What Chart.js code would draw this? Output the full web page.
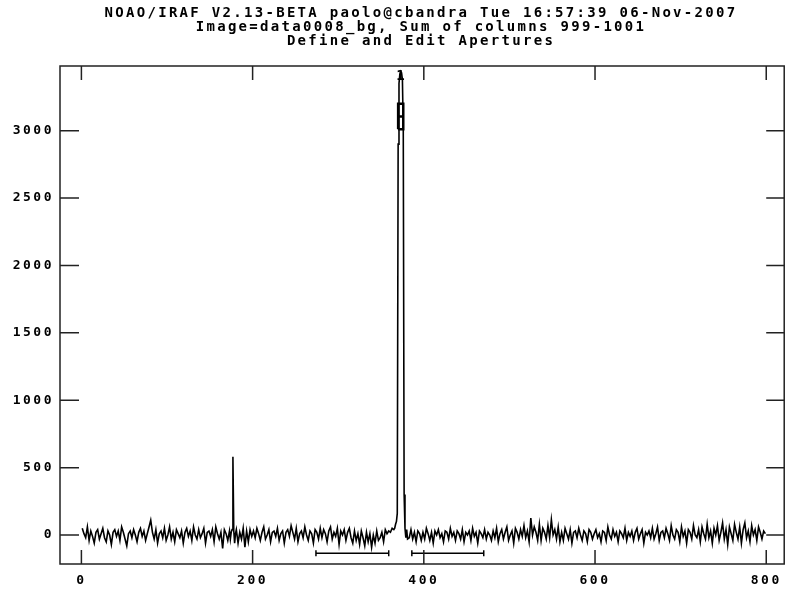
<!DOCTYPE html>
<html>
<head>
<meta charset="utf-8">
<script src="https://cdn.jsdelivr.net/npm/chart.js@4.4.0/dist/chart.umd.min.js"></script>
<style>
  html, body { margin: 0; padding: 0; background: #fff; }
  #wrap { width: 787px; height: 596px; }
</style>
</head>
<body>
<div id="wrap"><canvas id="spec"></canvas></div>
<script>
const titleLines = [
  'NOAO/IRAF V2.13-BETA paolo@cbandra Tue 16:57:39 06-Nov-2007',
  'Image=data0008_bg, Sum of columns 999-1001',
  'Define and Edit Apertures'
];
const xTicks = [0, 200, 400, 600, 800];
const yTicks = [0, 500, 1000, 1500, 2000, 2500, 3000];

// summed counts, one value every 2nd line starting at line 1
const baseStart = 1, baseStep = 2;
const baseCounts = [
  50, 10, -20, 60, -40, 30, -10, -60, 20, 40, -30, 10, 50, -20, -50, 30, 0, -70, 20, 40,
  -10, 30, -40, 60, 20, -30, -80, 10, 30, -20, 40, 0, -50, 20, 50, -10, 30, -40, 10, 60,
  110, 20, -30, 40, -60, 10, 30, -20, 50, -40, 0, 60, -30, 20, -50, 40, 10, -20, 30, -60,
  20, 50, -10, 30, -40, 60, 0, -30, 40, -20, 10, 50, -60, 20, 30, -10, 40, -50, 60, 10,
  -30, 20, -100, 40, 10, -40, 30, 0, 0, 0, 40, -60, 20, -30, 50, -90, 30, -50, 40, -10,
  30, -20, 50, 10, -40, 20, 60, -30, 0, 40, -50, 20, 30, -10, 50, -40, 10, 30, -60, 20,
  40, -10, 70, 20, -30, 50, -50, 10, 30, -20, 60, 0, -40, 30, 10, -60, 40, 20, -30, 50,
  -20, 40, 10, -50, 30, 60, -30, 20, -10, 50, -70, 30, 0, 40, -40, 20, 50, -20, -60, 30,
  -40, 10, -70, 30, -20, -80, 20, -50, 10, -90, 0, -60, 30, -40, -20, 20, -50, 40, 10, 30,
  20, 50, 40, 0, 0, 0, 0, 0, 0, 0, 0, -20, 40, -30, 20, -50, 30, 10, -40, 20,
  -30, 50, 10, -40, 20, -60, 30, 0, 40, -20, 10, -50, 30, 20, -30, 50, -10, 20, -40, 30,
  10, -30, 40, -50, 20, 0, 30, -40, 50, -10, 20, -60, 30, 10, -20, 40, -30, 20, 0, -40,
  30, -20, 50, -50, 10, 40, -30, 20, 60, -40, 0, 30, -60, 50, 20, -30, 40, -10, 70, -20,
  30, -50, 125, 0, 60, 20, -40, 80, -40, 50, 20, -30, 70, -20, 115, 0, 40, -30, 60, -50,
  20, -40, 50, 10, -30, 40, -60, 20, 30, -20, 50, 0, -40, 30, 10, -50, 40, 20, -30, 10,
  40, -20, 10, -50, 30, 20, -40, 60, 0, -30, 40, -10, 20, -50, 30, 10, -20, 50, -40, 20,
  -10, 30, -40, 20, 50, -30, 10, 40, -60, 20, 0, 30, -20, 50, -30, 10, 60, -40, 20, 30,
  -20, 50, 10, -40, 70, 0, -30, 40, 20, -50, 60, -10, 30, -60, 40, 20, -30, 70, 0, -20,
  40, -50, 60, 10, -30, 80, -20, 30, -60, 50, 0, 70, -40, 20, 90, -30, 40, -70, 60, 10,
  -40, 80, 20, -30, 60, -60, 40, 90, -20, 30, -50, 70, 0, 40, -40, 60, 20, -30, 30, 10
];

// cosmic ray hit near line 177
const spikeLines = [174, 175, 176, 177, 178, 179, 180];
const spikeCounts = [-30, 20, 40, 580, 30, -60, 10];

// object profile
const peakLines = [366, 367, 368, 369, 370, 371, 372, 373, 374, 375, 376, 377, 378, 379, 380, 381];
const peakCounts = [50, 80, 100, 160, 2900, 3350, 3420, 3440, 3430, 3380, 3000, 300, 50, -20, 40, -30];

// aperture 1
const apId = '1';
const apCenter = 373, apLow = -3, apHigh = 3;
const apBox = [3010, 3200];
const apLabelY = 3400;

// background sample regions
const bgRegions = [[274, 359], [386, 470]];
const bgLevel = -135, bgCap = 22;

function inside(x, cols) { return x >= cols[0] && x <= cols[cols.length - 1]; }

const spectrum = [];
baseCounts.forEach((v, i) => {
  const x = baseStart + i * baseStep;
  if (!inside(x, spikeLines) && !inside(x, peakLines)) spectrum.push({ x: x, y: v });
});
spikeLines.forEach((x, i) => spectrum.push({ x: x, y: spikeCounts[i] }));
peakLines.forEach((x, i) => spectrum.push({ x: x, y: peakCounts[i] }));
spectrum.sort((a, b) => a.x - b.x);

const apMid = (apBox[0] + apBox[1]) / 2;
const apMark = [
  { x: apCenter + apLow, y: apBox[0] }, { x: apCenter + apHigh, y: apBox[0] },
  { x: apCenter + apHigh, y: apBox[1] }, { x: apCenter + apLow, y: apBox[1] },
  { x: apCenter + apLow, y: apBox[0] }, { x: apCenter, y: null },
  { x: apCenter + apLow, y: apMid }, { x: apCenter + apHigh, y: apMid }
];

const bgMark = [];
bgRegions.forEach(r => {
  bgMark.push({ x: r[0], y: bgLevel }, { x: r[1], y: bgLevel }, { x: r[1], y: null });
  bgMark.push({ x: r[0], y: bgLevel - bgCap }, { x: r[0], y: bgLevel + bgCap }, { x: r[0], y: null });
  bgMark.push({ x: r[1], y: bgLevel - bgCap }, { x: r[1], y: bgLevel + bgCap }, { x: r[1], y: null });
});

const FONT = 'bold 14px "DejaVu Sans Mono"';
const SPACING = '2.3px';
const tickFont = { family: 'DejaVu Sans Mono', size: 13, weight: 'bold' };

// IRAF style frame: box with inward ticks on all four sides, title and aperture id
const irafFrame = {
  id: 'irafFrame',
  beforeDraw(chart) {
    chart.ctx.letterSpacing = '2.5px';
  },
  afterDraw(chart) {
    const { ctx, chartArea: a, scales: { x, y } } = chart;
    ctx.save();
    ctx.strokeStyle = '#222';
    ctx.lineWidth = 1.5;
    ctx.strokeRect(a.left, a.top, a.right - a.left, a.bottom - a.top);
    ctx.beginPath();
    xTicks.forEach(v => {
      const px = x.getPixelForValue(v);
      ctx.moveTo(px, a.bottom); ctx.lineTo(px, a.bottom - 14);
      ctx.moveTo(px, a.top); ctx.lineTo(px, a.top + 14);
    });
    yTicks.forEach(v => {
      const py = y.getPixelForValue(v);
      ctx.moveTo(a.left, py); ctx.lineTo(a.left + 19, py);
      ctx.moveTo(a.right, py); ctx.lineTo(a.right - 18, py);
    });
    ctx.stroke();

    ctx.fillStyle = '#000';
    ctx.font = FONT;
    ctx.letterSpacing = SPACING;
    ctx.textAlign = 'center';
    ctx.textBaseline = 'middle';
    titleLines.forEach((t, i) => ctx.fillText(t, 421, 13 + i * 14));
    ctx.fillText(apId, x.getPixelForValue(apCenter) + 1, y.getPixelForValue(apLabelY));
    ctx.restore();
  }
};

new Chart(document.getElementById('spec'), {
  type: 'line',
  data: {
    datasets: [
      { data: spectrum, borderColor: '#000', borderWidth: 1.6, pointRadius: 0, tension: 0 },
      { data: apMark, borderColor: '#000', borderWidth: 2.5, pointRadius: 0, spanGaps: false },
      { data: bgMark, borderColor: '#000', borderWidth: 1.5, pointRadius: 0, spanGaps: false }
    ]
  },
  options: {
    responsive: true,
    maintainAspectRatio: false,
    animation: false,
    layout: { padding: { top: 66, right: 1, left: 0, bottom: 0 } },
    plugins: { legend: { display: false }, tooltip: { enabled: false }, title: { display: false } },
    scales: {
      x: {
        type: 'linear', min: -25, max: 821,
        afterBuildTicks: s => { s.ticks = xTicks.map(v => ({ value: v })); },
        afterFit: s => { s.height = 32; },
        grid: { display: false, drawTicks: false },
        border: { display: false },
        ticks: { color: '#000', font: tickFont, padding: 9, maxRotation: 0, callback: v => String(v) }
      },
      y: {
        type: 'linear', min: -215, max: 3480,
        afterBuildTicks: s => { s.ticks = yTicks.map(v => ({ value: v })); },
        afterFit: s => { s.width = 60; },
        grid: { display: false, drawTicks: false },
        border: { display: false },
        ticks: { color: '#000', font: tickFont, padding: 6, callback: v => String(v) }
      }
    }
  },
  plugins: [irafFrame]
});
</script>
</body>
</html>
